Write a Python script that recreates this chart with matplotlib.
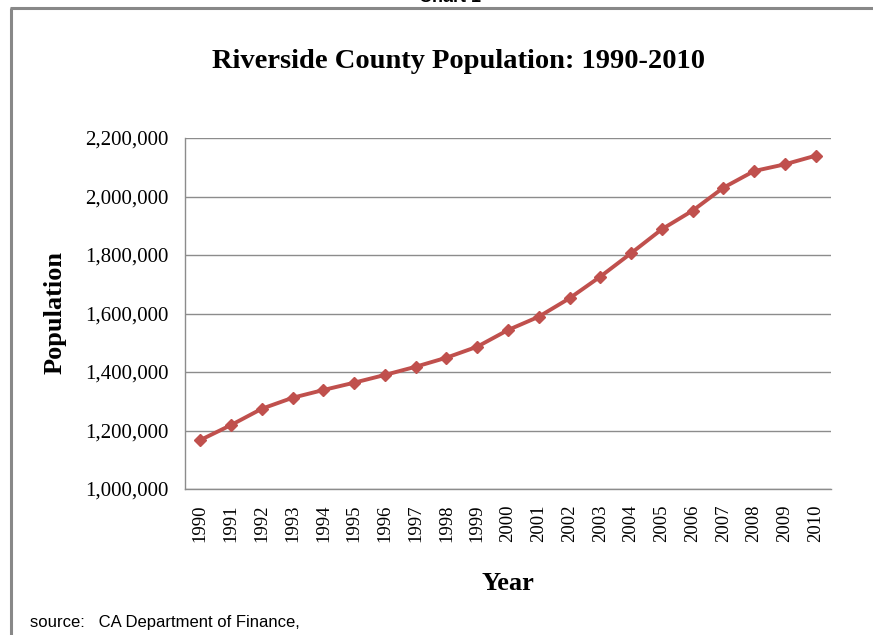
import matplotlib
matplotlib.use("Agg")
import matplotlib.pyplot as plt
from matplotlib.lines import Line2D
from matplotlib.ticker import FuncFormatter, MultipleLocator

years = [str(y) for y in range(1990, 2011)]
population = [1167500, 1218800, 1274500, 1312000, 1338500, 1363500, 1390000,
              1418000, 1449000, 1486500, 1543500, 1589000, 1652000, 1726000,
              1806000, 1888000, 1951500, 2030000, 2087000, 2110000, 2139500]

W, H = 873, 635
fig = plt.figure(figsize=(W / 100, H / 100), dpi=100)
serif = ["Liberation Serif", "DejaVu Serif"]

# outer frame (partially visible)
fig.add_artist(Line2D([11 / W, 11 / W], [0, 1 - 8 / H], transform=fig.transFigure,
                      color="#888888", lw=2.2, solid_capstyle="butt"))
fig.add_artist(Line2D([10 / W, 1], [1 - 8 / H, 1 - 8 / H], transform=fig.transFigure,
                      color="#888888", lw=2.2, solid_capstyle="butt"))

fig.text(450 / W, 1 - 1.5 / H, "Chart 1", ha="center", va="baseline",
         fontsize=13, fontweight="bold", family=["Liberation Sans", "DejaVu Sans"])

ax = fig.add_axes([185 / W, 1 - 489 / H, (831 - 185) / W, (489 - 138) / H])
x = list(range(len(years)))
ax.plot(x, population, color="#C0504D", lw=2.8, marker="D", markersize=6,
        markerfacecolor="#C0504D", markeredgecolor="#C0504D", zorder=3)
ax.set_xlim(-0.5, len(years) - 0.5)
ax.set_ylim(1000000, 2200000)
ax.yaxis.set_major_locator(MultipleLocator(200000))
ax.yaxis.set_major_formatter(FuncFormatter(lambda v, p: f"{int(v):,}"))
ax.set_xticks(x)
ax.set_xticklabels(years, rotation=90, family=serif, fontsize=13.5)
for lab in ax.get_yticklabels():
    lab.set_family(serif)
ax.tick_params(axis="y", labelsize=15, length=0, pad=12)
ax.tick_params(axis="x", length=0, pad=11)
ax.grid(axis="y", color="#8C8C8C", lw=1)
ax.set_axisbelow(True)
for s in ["top", "right"]:
    ax.spines[s].set_visible(False)
for s in ["left", "bottom"]:
    ax.spines[s].set_color("#8C8C8C")
    ax.spines[s].set_linewidth(1)

fig.text(458 / W, 1 - 61 / H, "Riverside County Population: 1990-2010", ha="center",
         va="center", fontsize=20.5, fontweight="bold", family=serif)
fig.text(55 / W, 1 - 313 / H, "Population", ha="center", va="center", rotation=90,
         fontsize=19, fontweight="bold", family=serif)
fig.text(508 / W, 1 - 584 / H, "Year", ha="center", va="center",
         fontsize=19, fontweight="bold", family=serif)
fig.text(30 / W, 1 - 622 / H, "source:   CA Department of Finance,", ha="left", va="center",
         fontsize=12, family=["Liberation Sans", "DejaVu Sans"])

fig.savefig("out.png", dpi=100)
